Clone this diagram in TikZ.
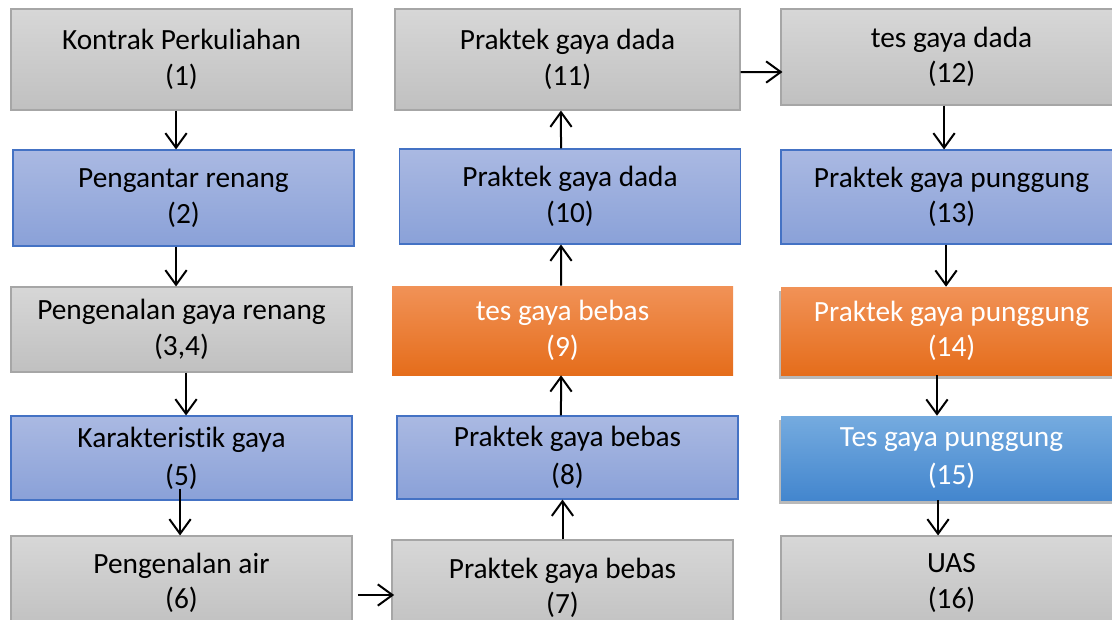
\documentclass[tikz,border=0pt]{standalone}
\usepackage{fontspec}
\setmainfont[Ligatures=NoCommon]{Carlito}
\usetikzlibrary{arrows.meta,shadows}
\definecolor{grayT}{HTML}{D7D7D7}
\definecolor{grayB}{HTML}{C0C0C0}
\definecolor{grayL}{HTML}{A6A6A6}
\definecolor{blueT}{HTML}{AAB9E2}
\definecolor{blueB}{HTML}{8AA1D8}
\definecolor{blueL}{HTML}{4472C4}
\definecolor{oranT}{HTML}{F19257}
\definecolor{oranB}{HTML}{E56D1B}
\definecolor{skyT}{HTML}{75ABDF}
\definecolor{skyB}{HTML}{4386CE}
\begin{document}
\begin{tikzpicture}[x=0.75pt,y=-0.75pt,
  box/.style={shape=rectangle,minimum width=255.75pt,inner sep=0pt,align=center,font=\fontsize{22}{26.5}\selectfont},
  boxG/.style={box,draw=grayL,line width=0.8pt,top color=grayT,bottom color=grayB},
  boxB/.style={box,draw=blueL,line width=0.8pt,top color=blueT,bottom color=blueB},
  boxO/.style={box,text=white,top color=oranT,bottom color=oranB},
  boxS/.style={box,text=white,top color=skyT,bottom color=skyB},
  shad/.style={drop shadow={opacity=0.55,shadow xshift=-1.2pt,shadow yshift=-3.2pt}},
  arr/.style={line width=1.5pt,-{Straight Barb[length=11pt,width=16pt,line width=1.5pt]}}]
\def\ka{-4.1pt};
\def\kb{-5.6pt};
\def\kc{-1.1pt};
\def\kd{-6.75pt};
\def\ke{-4.9pt};

\clip (0,0) rectangle (1112,619);

% column 1
\node[boxG,minimum height=75.75pt] (n1) at (181.5,59.5) {Kontrak Perkuliahan\\(1)};
\node[boxB,minimum height=72pt] (n2) at (183.5,198) {Pengantar renang\\(2)};
\node[boxG,minimum height=63.75pt] (n3) at (181.5,329.5) {Pengenalan gaya renang\\(3,4)};
\node[boxB,minimum height=63pt] (n4) at (181.5,458) {Karakteristik gaya\\[2pt](5)};
\node[boxG,minimum height=70.5pt] (n6) at (181.5,583) {Pengenalan air\\(6)};

% column 2
\node[boxG,minimum height=72pt] (n7) at (562.5,588) {Praktek gaya bebas\\(7)};
\node[boxB,minimum height=62.25pt] (n8) at (567.5,457.5) {Praktek gaya bebas\\[2pt](8)};
\node[boxO,minimum height=66.75pt] (n9) at (562.5,330.5) {tes gaya bebas\\(9)};
\node[boxB,minimum height=71.25pt] (n10) at (570,196.5) {Praktek gaya dada\\(10)};
\node[boxG,minimum height=75.75pt,minimum width=258.75pt] (n11) at (567.5,59.5) {Praktek gaya dada\\(11)};

% column 3
\node[boxG,minimum height=72pt] (n12) at (951.5,57) {tes gaya dada\\(12)};
\node[boxB,minimum height=70.5pt] (n13) at (951.5,197) {Praktek gaya punggung\\(13)};
\node[boxO,shad,minimum height=66pt] (n14) at (951.5,331) {Praktek gaya punggung\\(14)};
\node[boxS,shad,minimum height=63pt] (n15) at (951.5,458) {Tes gaya punggung\\[2pt](15)};
\node[boxG,minimum height=70.5pt] (n16) at (951.5,583) {UAS\\(16)};

\draw[arr] ([xshift=\ka]n1.south) -- ([xshift=\kb]n2.north);
\draw[arr] ([xshift=\kb]n2.south) -- ([xshift=\ka]n3.north);
\draw[arr] ([xshift=3.4pt]n3.south) -- ([xshift=3.4pt]n4.north);
\draw[arr] ([xshift=-1.1pt,yshift=9pt]n4.south) -- ([xshift=-1.1pt]n6.north);
\draw[arr] ([xshift=4pt,yshift=-9pt]n6.east) -- ([xshift=2pt,yshift=-5.25pt]n7.west);
\draw[arr] (n7.north) -- ([xshift=-3.75pt]n8.south);
\draw[arr] ([xshift=\ke]n8.north) -- ([xshift=\kc]n9.south);
\draw[arr] ([xshift=\kc]n9.north) -- ([xshift=\kd]n10.south);
\draw[arr] ([xshift=\kd]n10.north) -- ([xshift=\ke]n11.south);
\draw[arr] ([yshift=-9.4pt]n11.east) -- ([xshift=1.5pt,yshift=-11.25pt]n12.west);
\draw[arr] ([xshift=\kb]n12.south) -- ([xshift=\kb]n13.north);
\draw[arr] ([xshift=\ka]n13.south) -- ([xshift=\ka]n14.north);
\draw[arr] ([xshift=-10.9pt]n14.south) -- ([xshift=-10.9pt]n15.north);
\draw[arr] ([xshift=-10.1pt]n15.south) -- ([xshift=-10.1pt]n16.north);
\end{tikzpicture}
\end{document}
